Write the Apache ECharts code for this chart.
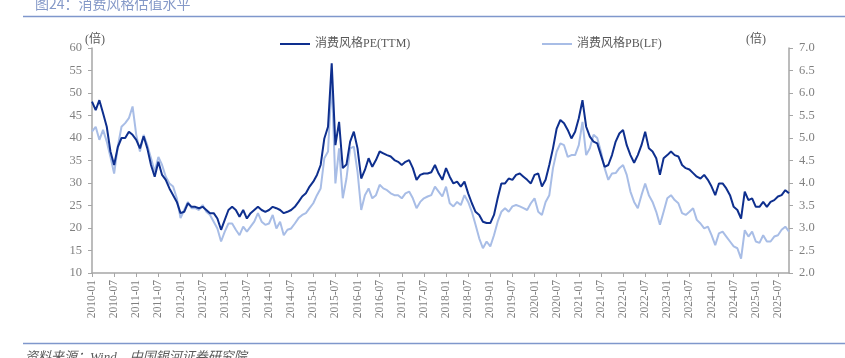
<!DOCTYPE html>
<html>
<head>
<meta charset="utf-8">
<script src="https://cdn.jsdelivr.net/npm/echarts@6/dist/echarts.min.js"></script>
<style>
html,body{margin:0;padding:0;background:#fff;}
#c{width:845px;height:358px;}
</style>
</head>
<body>
<div id="c"></div>
<script>
// Monthly categories 2010-01 .. 2025-10
var months = [];
for (var y = 2010; y <= 2025; y++) {
  for (var mo = 1; mo <= 12; mo++) {
    if (y === 2025 && mo > 10) break;
    months.push(y + '-' + (mo < 10 ? '0' + mo : mo));
  }
}

var peTTM = [
48.1,46.2,48.4,45.5,42.5,37,34,38,40,40,41.4,40.7,
39.6,37.7,40.4,37.7,34,31.4,34.7,31.8,30.7,28.8,27.3,25.8,
23.3,23.6,25.5,24.7,24.7,24.4,24.7,24,23.3,23.3,22.1,19.6,
21.8,24,24.7,24,22.5,24,22.1,23.3,24,24.7,24,23.6,
24,24.7,24.4,24,23.3,23.6,24,24.7,25.8,27,27.7,29.2,
30.3,31.8,34,39.9,42.5,56.6,38.4,43.6,33.3,34.1,39.2,41.4,
37.7,31,32.9,35.5,33.6,35.1,37,36.6,36.2,35.9,35.1,34.7,
34,34.7,35.1,33.3,30.7,31.8,32.1,32.1,32.4,34,32.1,30.7,
33.3,31.4,29.9,30.3,29.2,30.3,27.7,25.5,23.6,22.9,21.4,21.1,
21.1,22.9,26.6,29.9,29.9,31,30.7,31.8,32.1,31.4,30.7,29.9,
31.8,32.1,29.2,30.7,34,37.7,42.1,44,43.3,41.8,39.9,41.4,
44.4,48.4,42.5,40.3,39.2,38.8,36.2,33.6,34,36.2,39.2,41,
41.8,38.4,36.2,34.5,36.2,38.4,41.4,37.7,37,35.5,31.8,35.5,
36.2,37,36.2,35.9,34,33.3,33,32.2,31.4,31,31.8,30.7,
29.2,27.3,29.9,29.9,28.8,27.3,24.7,24,22.1,28.1,26.2,26.6,
24.7,24.7,25.8,24.7,25.8,26.2,27,27.3,28.4,27.7
];

var pbLF = [
5.14,5.25,4.96,5.18,4.92,4.58,4.21,4.81,5.25,5.33,5.44,5.70,
5.07,4.70,5.07,4.84,4.55,4.25,4.58,4.40,4.14,3.99,3.92,3.66,
3.22,3.40,3.58,3.44,3.44,3.40,3.51,3.36,3.29,3.14,2.99,2.70,
2.92,3.10,3.10,2.96,2.84,3.03,2.92,3.03,3.14,3.33,3.14,3.07,
3.10,3.29,2.99,3.14,2.84,2.96,2.99,3.10,3.22,3.29,3.33,3.44,
3.55,3.73,3.88,4.55,4.70,6.30,3.99,4.77,3.66,4.10,4.77,4.81,
4.25,3.40,3.73,3.88,3.66,3.73,3.96,3.88,3.84,3.77,3.73,3.73,
3.66,3.77,3.81,3.66,3.44,3.58,3.66,3.70,3.73,3.92,3.81,3.70,
3.92,3.55,3.48,3.58,3.51,3.73,3.58,3.36,3.07,2.77,2.55,2.70,
2.59,2.84,3.14,3.36,3.44,3.36,3.48,3.51,3.48,3.44,3.40,3.55,
3.66,3.36,3.29,3.58,3.73,4.33,4.70,4.88,4.84,4.58,4.62,4.62,
4.84,5.36,4.62,4.77,5.07,5.00,4.70,4.33,4.07,4.21,4.22,4.33,
4.40,4.18,3.81,3.58,3.44,3.73,3.99,3.73,3.58,3.36,3.07,3.36,
3.66,3.73,3.62,3.55,3.33,3.29,3.36,3.44,3.18,3.10,2.99,3.03,
2.84,2.62,2.88,2.92,2.81,2.70,2.59,2.55,2.32,2.95,2.81,2.92,
2.70,2.67,2.84,2.70,2.70,2.81,2.84,2.96,3.03,2.92
];

var seriesNames = ['消费风格PE(TTM)', '消费风格PB(LF)'];
var titleText = '图24：消费风格估值水平';
var sourceText = '资料来源：Wind，中国银河证券研究院';
var axisUnit = '(倍)';

var serif = '"Liberation Serif","Noto Sans CJK SC",serif';
var axisColor = '#a6a6a6';
var labelColor = '#808080';
var darkBlue = '#0e2f8e';
var lightBlue = '#a8bde6';

var chart = echarts.init(document.getElementById('c'), null, {renderer: 'canvas'});
chart.setOption({
  animation: false,
  backgroundColor: '#ffffff',
  grid: {left: 92, right: 56, top: 48, bottom: 85, containLabel: false},
  legend: [
    {data: [seriesNames[0]], left: 275, top: 33, icon: 'rect', itemWidth: 30, itemHeight: 2,
     textStyle: {fontFamily: serif, fontSize: 12, color: '#595959'}},
    {data: [seriesNames[1]], left: 537, top: 33, icon: 'rect', itemWidth: 30, itemHeight: 2,
     textStyle: {fontFamily: serif, fontSize: 12, color: '#595959'}}
  ],
  xAxis: {
    type: 'category',
    data: months,
    boundaryGap: false,
    axisLine: {lineStyle: {color: axisColor, width: 1.5}},
    axisTick: {interval: 5, length: 4, lineStyle: {color: axisColor}},
    axisLabel: {interval: 5, rotate: 90, color: labelColor, fontFamily: serif, fontSize: 11.5, margin: 7},
    splitLine: {show: false}
  },
  yAxis: [
    {
      type: 'value', min: 10, max: 60, interval: 5, position: 'left',
      axisLine: {show: true, lineStyle: {color: axisColor, width: 1.5}},
      axisTick: {show: true, length: 4, lineStyle: {color: axisColor}},
      axisLabel: {color: labelColor, fontFamily: serif, fontSize: 12.5, margin: 10},
      splitLine: {show: false}
    },
    {
      type: 'value', min: 2, max: 7, interval: 0.5, position: 'right',
      axisLine: {show: true, lineStyle: {color: axisColor, width: 1.5}},
      axisTick: {show: true, length: 4, lineStyle: {color: axisColor}},
      axisLabel: {color: labelColor, fontFamily: serif, fontSize: 12.5, margin: 10,
        formatter: function (v) { return v.toFixed(1); }},
      splitLine: {show: false}
    }
  ],
  series: [
    {name: seriesNames[0], type: 'line', yAxisIndex: 0, data: peTTM, showSymbol: false, symbol: 'none',
     z: 3, lineStyle: {color: darkBlue, width: 2}, itemStyle: {color: darkBlue}},
    {name: seriesNames[1], type: 'line', yAxisIndex: 1, data: pbLF, showSymbol: false, symbol: 'none',
     z: 2, lineStyle: {color: lightBlue, width: 2}, itemStyle: {color: lightBlue}}
  ],
  graphic: [
    {type: 'text', left: 35, top: -3, style: {text: titleText, fill: '#8599c8', font: '14px "Noto Sans CJK SC", sans-serif'}},
    {type: 'line', shape: {x1: 23, y1: 16.5, x2: 845, y2: 16.5}, style: {stroke: '#7f97cc', lineWidth: 1.5}},
    {type: 'text', left: 85, top: 34, style: {text: axisUnit, fill: '#595959', font: '12px ' + serif}},
    {type: 'text', left: 746, top: 34, style: {text: axisUnit, fill: '#595959', font: '12px ' + serif}},
    {type: 'line', shape: {x1: 23, y1: 343.5, x2: 845, y2: 343.5}, style: {stroke: '#7f97cc', lineWidth: 1.5}},
    {type: 'text', left: 25, top: 351, style: {text: sourceText, fill: '#595959', font: 'italic 13px ' + serif}}
  ]
});
</script>
</body>
</html>
